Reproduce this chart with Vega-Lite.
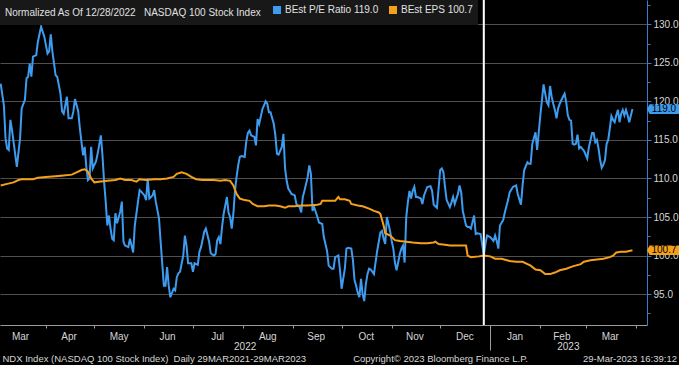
{
"$schema": "https://vega.github.io/schema/vega-lite/v6.json",
"width": 647, "height": 325,
"autosize": {"type": "none"},
"padding": {"left": 0, "top": 0, "right": 32, "bottom": 40},
"background": "#000000",
"config": {
  "font": "Liberation Sans",
  "view": {"stroke": null},
  "axis": {"labelFont": "Liberation Sans", "titleFont": "Liberation Sans", "labelFontSize": 10, "titleFontSize": 9.5, "titleFontWeight": "normal", "labelColor": "#d6d6d6", "titleColor": "#d6d6d6"},
  "legend": {"labelFont": "Liberation Sans", "titleFont": "Liberation Sans", "titleLimit": 400, "labelLimit": 200}
},
"datasets": {
"callouts": [
 {"d": "2023-04-08", "v": 119.0, "s": "pe", "label": "119.0"},
 {"d": "2023-04-08", "v": 100.7, "s": "eps", "label": "100.7"}
],
"series": [
{"d":"2022-03-04","v":122.3,"s":"pe"},{"d":"2022-03-06","v":119.5,"s":"pe"},{"d":"2022-03-07","v":115.2,"s":"pe"},{"d":"2022-03-08","v":113.9,"s":"pe"},{"d":"2022-03-09","v":113.7,"s":"pe"},{"d":"2022-03-10","v":117.6,"s":"pe"},{"d":"2022-03-11","v":116.3,"s":"pe"},{"d":"2022-03-14","v":111.5,"s":"pe"},{"d":"2022-03-16","v":115.2,"s":"pe"},{"d":"2022-03-17","v":119.1,"s":"pe"},{"d":"2022-03-19","v":120.2,"s":"pe"},{"d":"2022-03-20","v":123.0,"s":"pe"},{"d":"2022-03-21","v":123.2,"s":"pe"},{"d":"2022-03-22","v":124.9,"s":"pe"},{"d":"2022-03-23","v":123.2,"s":"pe"},{"d":"2022-03-24","v":125.8,"s":"pe"},{"d":"2022-03-26","v":126.0,"s":"pe"},{"d":"2022-03-27","v":127.7,"s":"pe"},{"d":"2022-03-29","v":129.7,"s":"pe"},{"d":"2022-03-31","v":128.4,"s":"pe"},
{"d":"2022-04-02","v":126.2,"s":"pe"},{"d":"2022-04-03","v":126.5,"s":"pe"},{"d":"2022-04-04","v":128.7,"s":"pe"},{"d":"2022-04-05","v":126.5,"s":"pe"},{"d":"2022-04-07","v":123.4,"s":"pe"},{"d":"2022-04-08","v":123.2,"s":"pe"},{"d":"2022-04-10","v":121.0,"s":"pe"},{"d":"2022-04-11","v":118.7,"s":"pe"},{"d":"2022-04-12","v":118.4,"s":"pe"},{"d":"2022-04-14","v":120.6,"s":"pe"},{"d":"2022-04-15","v":117.8,"s":"pe"},{"d":"2022-04-17","v":117.8,"s":"pe"},{"d":"2022-04-18","v":118.7,"s":"pe"},{"d":"2022-04-19","v":120.3,"s":"pe"},{"d":"2022-04-21","v":118.7,"s":"pe"},{"d":"2022-04-22","v":116.5,"s":"pe"},{"d":"2022-04-24","v":113.0,"s":"pe"},{"d":"2022-04-25","v":114.1,"s":"pe"},{"d":"2022-04-26","v":111.5,"s":"pe"},{"d":"2022-04-27","v":109.8,"s":"pe"},{"d":"2022-04-28","v":110.0,"s":"pe"},{"d":"2022-04-29","v":114.1,"s":"pe"},{"d":"2022-04-30","v":111.3,"s":"pe"},
{"d":"2022-05-02","v":112.2,"s":"pe"},{"d":"2022-05-03","v":113.2,"s":"pe"},{"d":"2022-05-05","v":115.6,"s":"pe"},{"d":"2022-05-06","v":113.0,"s":"pe"},{"d":"2022-05-07","v":109.6,"s":"pe"},{"d":"2022-05-08","v":107.0,"s":"pe"},{"d":"2022-05-09","v":103.9,"s":"pe"},{"d":"2022-05-10","v":105.2,"s":"pe"},{"d":"2022-05-11","v":103.5,"s":"pe"},{"d":"2022-05-12","v":102.2,"s":"pe"},{"d":"2022-05-13","v":102.0,"s":"pe"},{"d":"2022-05-14","v":105.5,"s":"pe"},{"d":"2022-05-15","v":104.2,"s":"pe"},{"d":"2022-05-17","v":105.7,"s":"pe"},{"d":"2022-05-18","v":107.0,"s":"pe"},{"d":"2022-05-19","v":101.8,"s":"pe"},{"d":"2022-05-20","v":101.3,"s":"pe"},{"d":"2022-05-22","v":101.1,"s":"pe"},{"d":"2022-05-23","v":102.2,"s":"pe"},{"d":"2022-05-25","v":100.4,"s":"pe"},{"d":"2022-05-26","v":103.9,"s":"pe"},{"d":"2022-05-28","v":107.0,"s":"pe"},{"d":"2022-05-29","v":108.5,"s":"pe"},{"d":"2022-05-30","v":108.3,"s":"pe"},
{"d":"2022-06-01","v":107.8,"s":"pe"},{"d":"2022-06-02","v":107.2,"s":"pe"},{"d":"2022-06-03","v":110.0,"s":"pe"},{"d":"2022-06-04","v":107.4,"s":"pe"},{"d":"2022-06-06","v":107.8,"s":"pe"},{"d":"2022-06-07","v":108.5,"s":"pe"},{"d":"2022-06-08","v":107.0,"s":"pe"},{"d":"2022-06-10","v":104.8,"s":"pe"},{"d":"2022-06-11","v":101.8,"s":"pe"},{"d":"2022-06-13","v":96.1,"s":"pe"},{"d":"2022-06-14","v":96.1,"s":"pe"},{"d":"2022-06-15","v":98.5,"s":"pe"},{"d":"2022-06-16","v":96.1,"s":"pe"},{"d":"2022-06-17","v":94.6,"s":"pe"},{"d":"2022-06-19","v":95.7,"s":"pe"},{"d":"2022-06-20","v":95.5,"s":"pe"},{"d":"2022-06-21","v":97.2,"s":"pe"},{"d":"2022-06-22","v":97.7,"s":"pe"},{"d":"2022-06-23","v":97.9,"s":"pe"},{"d":"2022-06-25","v":100.0,"s":"pe"},{"d":"2022-06-26","v":102.6,"s":"pe"},{"d":"2022-06-27","v":101.3,"s":"pe"},{"d":"2022-06-28","v":99.0,"s":"pe"},{"d":"2022-06-30","v":99.0,"s":"pe"},
{"d":"2022-07-01","v":97.9,"s":"pe"},{"d":"2022-07-02","v":99.0,"s":"pe"},{"d":"2022-07-04","v":98.8,"s":"pe"},{"d":"2022-07-05","v":100.5,"s":"pe"},{"d":"2022-07-06","v":101.1,"s":"pe"},{"d":"2022-07-08","v":103.1,"s":"pe"},{"d":"2022-07-09","v":103.5,"s":"pe"},{"d":"2022-07-11","v":101.8,"s":"pe"},{"d":"2022-07-12","v":100.3,"s":"pe"},{"d":"2022-07-14","v":100.0,"s":"pe"},{"d":"2022-07-15","v":100.2,"s":"pe"},{"d":"2022-07-16","v":102.0,"s":"pe"},{"d":"2022-07-17","v":102.4,"s":"pe"},{"d":"2022-07-18","v":101.5,"s":"pe"},{"d":"2022-07-19","v":103.7,"s":"pe"},{"d":"2022-07-20","v":105.4,"s":"pe"},{"d":"2022-07-21","v":106.5,"s":"pe"},{"d":"2022-07-22","v":107.6,"s":"pe"},{"d":"2022-07-23","v":105.6,"s":"pe"},{"d":"2022-07-24","v":105.0,"s":"pe"},{"d":"2022-07-25","v":103.5,"s":"pe"},{"d":"2022-07-26","v":105.4,"s":"pe"},{"d":"2022-07-27","v":108.4,"s":"pe"},{"d":"2022-07-28","v":110.2,"s":"pe"},{"d":"2022-07-29","v":111.7,"s":"pe"},{"d":"2022-07-30","v":112.8,"s":"pe"},{"d":"2022-07-31","v":112.9,"s":"pe"},
{"d":"2022-08-02","v":112.8,"s":"pe"},{"d":"2022-08-03","v":114.8,"s":"pe"},{"d":"2022-08-04","v":115.9,"s":"pe"},{"d":"2022-08-05","v":116.2,"s":"pe"},{"d":"2022-08-06","v":115.6,"s":"pe"},{"d":"2022-08-08","v":115.4,"s":"pe"},{"d":"2022-08-09","v":114.3,"s":"pe"},{"d":"2022-08-10","v":117.7,"s":"pe"},{"d":"2022-08-11","v":117.1,"s":"pe"},{"d":"2022-08-13","v":119.0,"s":"pe"},{"d":"2022-08-15","v":120.0,"s":"pe"},{"d":"2022-08-16","v":119.7,"s":"pe"},{"d":"2022-08-17","v":118.6,"s":"pe"},{"d":"2022-08-18","v":118.6,"s":"pe"},{"d":"2022-08-20","v":117.1,"s":"pe"},{"d":"2022-08-21","v":115.6,"s":"pe"},{"d":"2022-08-22","v":113.2,"s":"pe"},{"d":"2022-08-23","v":113.1,"s":"pe"},{"d":"2022-08-25","v":114.1,"s":"pe"},{"d":"2022-08-26","v":115.8,"s":"pe"},{"d":"2022-08-27","v":111.3,"s":"pe"},{"d":"2022-08-28","v":109.7,"s":"pe"},{"d":"2022-08-29","v":108.7,"s":"pe"},{"d":"2022-08-31","v":108.0,"s":"pe"},
{"d":"2022-09-02","v":107.8,"s":"pe"},{"d":"2022-09-03","v":106.7,"s":"pe"},{"d":"2022-09-05","v":106.3,"s":"pe"},{"d":"2022-09-06","v":105.6,"s":"pe"},{"d":"2022-09-07","v":107.6,"s":"pe"},{"d":"2022-09-08","v":108.4,"s":"pe"},{"d":"2022-09-10","v":110.2,"s":"pe"},{"d":"2022-09-11","v":111.7,"s":"pe"},{"d":"2022-09-12","v":110.6,"s":"pe"},{"d":"2022-09-13","v":105.8,"s":"pe"},{"d":"2022-09-14","v":106.3,"s":"pe"},{"d":"2022-09-16","v":105.0,"s":"pe"},{"d":"2022-09-17","v":104.3,"s":"pe"},{"d":"2022-09-19","v":104.1,"s":"pe"},{"d":"2022-09-20","v":102.4,"s":"pe"},{"d":"2022-09-22","v":100.6,"s":"pe"},{"d":"2022-09-23","v":98.7,"s":"pe"},{"d":"2022-09-25","v":98.3,"s":"pe"},{"d":"2022-09-26","v":98.3,"s":"pe"},{"d":"2022-09-27","v":99.8,"s":"pe"},{"d":"2022-09-29","v":100.0,"s":"pe"},{"d":"2022-09-30","v":98.1,"s":"pe"},
{"d":"2022-10-01","v":95.7,"s":"pe"},{"d":"2022-10-03","v":98.3,"s":"pe"},{"d":"2022-10-04","v":100.9,"s":"pe"},{"d":"2022-10-05","v":101.0,"s":"pe"},{"d":"2022-10-07","v":100.9,"s":"pe"},{"d":"2022-10-08","v":99.4,"s":"pe"},{"d":"2022-10-09","v":96.8,"s":"pe"},{"d":"2022-10-10","v":96.1,"s":"pe"},{"d":"2022-10-11","v":95.2,"s":"pe"},{"d":"2022-10-12","v":94.6,"s":"pe"},{"d":"2022-10-13","v":97.0,"s":"pe"},{"d":"2022-10-14","v":95.0,"s":"pe"},{"d":"2022-10-15","v":94.1,"s":"pe"},{"d":"2022-10-16","v":96.3,"s":"pe"},{"d":"2022-10-17","v":97.6,"s":"pe"},{"d":"2022-10-18","v":98.3,"s":"pe"},{"d":"2022-10-19","v":98.2,"s":"pe"},{"d":"2022-10-21","v":97.6,"s":"pe"},{"d":"2022-10-22","v":99.1,"s":"pe"},{"d":"2022-10-23","v":100.6,"s":"pe"},{"d":"2022-10-25","v":103.0,"s":"pe"},{"d":"2022-10-26","v":103.2,"s":"pe"},{"d":"2022-10-27","v":102.2,"s":"pe"},{"d":"2022-10-28","v":101.5,"s":"pe"},{"d":"2022-10-29","v":105.0,"s":"pe"},{"d":"2022-10-30","v":104.1,"s":"pe"},{"d":"2022-10-31","v":103.2,"s":"pe"},
{"d":"2022-11-01","v":101.9,"s":"pe"},{"d":"2022-11-02","v":100.9,"s":"pe"},{"d":"2022-11-03","v":99.1,"s":"pe"},{"d":"2022-11-04","v":98.1,"s":"pe"},{"d":"2022-11-05","v":99.1,"s":"pe"},{"d":"2022-11-06","v":100.2,"s":"pe"},{"d":"2022-11-07","v":100.9,"s":"pe"},{"d":"2022-11-08","v":101.3,"s":"pe"},{"d":"2022-11-09","v":99.1,"s":"pe"},{"d":"2022-11-10","v":105.0,"s":"pe"},{"d":"2022-11-11","v":106.9,"s":"pe"},{"d":"2022-11-12","v":108.4,"s":"pe"},{"d":"2022-11-13","v":107.4,"s":"pe"},{"d":"2022-11-14","v":108.4,"s":"pe"},{"d":"2022-11-15","v":108.9,"s":"pe"},{"d":"2022-11-16","v":107.6,"s":"pe"},{"d":"2022-11-17","v":107.6,"s":"pe"},{"d":"2022-11-19","v":107.4,"s":"pe"},{"d":"2022-11-20","v":106.7,"s":"pe"},{"d":"2022-11-21","v":107.8,"s":"pe"},{"d":"2022-11-23","v":108.9,"s":"pe"},{"d":"2022-11-25","v":109.0,"s":"pe"},{"d":"2022-11-26","v":108.4,"s":"pe"},{"d":"2022-11-27","v":106.6,"s":"pe"},{"d":"2022-11-29","v":106.2,"s":"pe"},
{"d":"2022-12-01","v":111.1,"s":"pe"},{"d":"2022-12-02","v":111.3,"s":"pe"},{"d":"2022-12-03","v":110.8,"s":"pe"},{"d":"2022-12-04","v":108.9,"s":"pe"},{"d":"2022-12-05","v":107.2,"s":"pe"},{"d":"2022-12-07","v":106.3,"s":"pe"},{"d":"2022-12-08","v":106.9,"s":"pe"},{"d":"2022-12-09","v":107.6,"s":"pe"},{"d":"2022-12-10","v":106.7,"s":"pe"},{"d":"2022-12-12","v":108.0,"s":"pe"},{"d":"2022-12-13","v":109.1,"s":"pe"},{"d":"2022-12-14","v":108.2,"s":"pe"},{"d":"2022-12-15","v":105.8,"s":"pe"},{"d":"2022-12-17","v":103.9,"s":"pe"},{"d":"2022-12-18","v":103.7,"s":"pe"},{"d":"2022-12-19","v":103.7,"s":"pe"},{"d":"2022-12-20","v":103.5,"s":"pe"},{"d":"2022-12-22","v":105.2,"s":"pe"},{"d":"2022-12-23","v":102.8,"s":"pe"},{"d":"2022-12-24","v":102.9,"s":"pe"},{"d":"2022-12-26","v":102.8,"s":"pe"},{"d":"2022-12-27","v":101.5,"s":"pe"},{"d":"2022-12-28","v":100.0,"s":"pe"},{"d":"2022-12-29","v":101.5,"s":"pe"},{"d":"2022-12-30","v":102.6,"s":"pe"},
{"d":"2023-01-01","v":102.4,"s":"pe"},{"d":"2023-01-03","v":101.9,"s":"pe"},{"d":"2023-01-04","v":102.6,"s":"pe"},{"d":"2023-01-05","v":101.9,"s":"pe"},{"d":"2023-01-06","v":100.9,"s":"pe"},{"d":"2023-01-07","v":103.9,"s":"pe"},{"d":"2023-01-09","v":104.6,"s":"pe"},{"d":"2023-01-10","v":105.6,"s":"pe"},{"d":"2023-01-12","v":107.2,"s":"pe"},{"d":"2023-01-13","v":108.2,"s":"pe"},{"d":"2023-01-15","v":108.9,"s":"pe"},{"d":"2023-01-16","v":109.0,"s":"pe"},{"d":"2023-01-17","v":109.1,"s":"pe"},{"d":"2023-01-18","v":108.0,"s":"pe"},{"d":"2023-01-20","v":106.6,"s":"pe"},{"d":"2023-01-21","v":109.1,"s":"pe"},{"d":"2023-01-22","v":111.1,"s":"pe"},{"d":"2023-01-24","v":112.1,"s":"pe"},{"d":"2023-01-25","v":111.9,"s":"pe"},{"d":"2023-01-26","v":111.9,"s":"pe"},{"d":"2023-01-27","v":114.5,"s":"pe"},{"d":"2023-01-29","v":116.0,"s":"pe"},{"d":"2023-01-30","v":113.7,"s":"pe"},{"d":"2023-01-31","v":116.0,"s":"pe"},
{"d":"2023-02-01","v":118.2,"s":"pe"},{"d":"2023-02-02","v":120.2,"s":"pe"},{"d":"2023-02-03","v":122.2,"s":"pe"},{"d":"2023-02-04","v":121.0,"s":"pe"},{"d":"2023-02-05","v":119.9,"s":"pe"},{"d":"2023-02-06","v":119.5,"s":"pe"},{"d":"2023-02-07","v":122.0,"s":"pe"},{"d":"2023-02-08","v":120.6,"s":"pe"},{"d":"2023-02-09","v":119.7,"s":"pe"},{"d":"2023-02-10","v":118.9,"s":"pe"},{"d":"2023-02-11","v":117.8,"s":"pe"},{"d":"2023-02-12","v":119.1,"s":"pe"},{"d":"2023-02-13","v":119.7,"s":"pe"},{"d":"2023-02-15","v":120.6,"s":"pe"},{"d":"2023-02-16","v":121.0,"s":"pe"},{"d":"2023-02-17","v":119.9,"s":"pe"},{"d":"2023-02-18","v":118.2,"s":"pe"},{"d":"2023-02-19","v":117.6,"s":"pe"},{"d":"2023-02-20","v":117.5,"s":"pe"},{"d":"2023-02-21","v":114.5,"s":"pe"},{"d":"2023-02-22","v":114.4,"s":"pe"},{"d":"2023-02-23","v":114.5,"s":"pe"},{"d":"2023-02-24","v":115.7,"s":"pe"},{"d":"2023-02-25","v":113.9,"s":"pe"},{"d":"2023-02-26","v":114.1,"s":"pe"},{"d":"2023-02-28","v":113.6,"s":"pe"},
{"d":"2023-03-01","v":113.1,"s":"pe"},{"d":"2023-03-02","v":112.6,"s":"pe"},{"d":"2023-03-03","v":114.0,"s":"pe"},{"d":"2023-03-05","v":115.9,"s":"pe"},{"d":"2023-03-06","v":115.9,"s":"pe"},{"d":"2023-03-07","v":114.7,"s":"pe"},{"d":"2023-03-08","v":115.0,"s":"pe"},{"d":"2023-03-09","v":113.9,"s":"pe"},{"d":"2023-03-10","v":112.4,"s":"pe"},{"d":"2023-03-11","v":111.4,"s":"pe"},{"d":"2023-03-12","v":111.8,"s":"pe"},{"d":"2023-03-13","v":112.4,"s":"pe"},{"d":"2023-03-14","v":114.5,"s":"pe"},{"d":"2023-03-15","v":115.0,"s":"pe"},{"d":"2023-03-16","v":116.5,"s":"pe"},{"d":"2023-03-17","v":118.1,"s":"pe"},{"d":"2023-03-18","v":117.6,"s":"pe"},{"d":"2023-03-19","v":117.3,"s":"pe"},{"d":"2023-03-20","v":118.2,"s":"pe"},{"d":"2023-03-21","v":118.9,"s":"pe"},{"d":"2023-03-22","v":117.3,"s":"pe"},{"d":"2023-03-23","v":118.4,"s":"pe"},{"d":"2023-03-24","v":118.9,"s":"pe"},{"d":"2023-03-25","v":118.2,"s":"pe"},{"d":"2023-03-26","v":118.9,"s":"pe"},{"d":"2023-03-27","v":118.2,"s":"pe"},{"d":"2023-03-28","v":117.3,"s":"pe"},{"d":"2023-03-30","v":119.0,"s":"pe"},
{"d":"2022-03-04","v":109.1,"s":"eps"},{"d":"2022-03-08","v":109.3,"s":"eps"},{"d":"2022-03-12","v":109.5,"s":"eps"},{"d":"2022-03-15","v":109.8,"s":"eps"},{"d":"2022-03-17","v":109.9,"s":"eps"},{"d":"2022-03-21","v":109.9,"s":"eps"},{"d":"2022-03-24","v":109.9,"s":"eps"},{"d":"2022-03-27","v":110.1,"s":"eps"},{"d":"2022-04-01","v":110.2,"s":"eps"},{"d":"2022-04-07","v":110.3,"s":"eps"},{"d":"2022-04-12","v":110.4,"s":"eps"},{"d":"2022-04-17","v":110.5,"s":"eps"},{"d":"2022-04-20","v":110.8,"s":"eps"},{"d":"2022-04-23","v":111.1,"s":"eps"},{"d":"2022-04-25","v":111.2,"s":"eps"},{"d":"2022-04-27","v":110.9,"s":"eps"},{"d":"2022-04-29","v":110.0,"s":"eps"},{"d":"2022-05-01","v":109.5,"s":"eps"},{"d":"2022-05-05","v":109.6,"s":"eps"},{"d":"2022-05-09","v":109.7,"s":"eps"},{"d":"2022-05-14","v":109.8,"s":"eps"},{"d":"2022-05-17","v":110.0,"s":"eps"},{"d":"2022-05-20","v":109.8,"s":"eps"},{"d":"2022-05-24","v":109.8,"s":"eps"},{"d":"2022-05-27","v":109.6,"s":"eps"},{"d":"2022-05-29","v":109.9,"s":"eps"},{"d":"2022-06-02","v":109.8,"s":"eps"},{"d":"2022-06-07","v":109.9,"s":"eps"},{"d":"2022-06-11","v":109.9,"s":"eps"},{"d":"2022-06-15","v":110.0,"s":"eps"},{"d":"2022-06-19","v":110.2,"s":"eps"},{"d":"2022-06-21","v":110.6,"s":"eps"},{"d":"2022-06-24","v":110.8,"s":"eps"},{"d":"2022-06-27","v":110.6,"s":"eps"},{"d":"2022-06-30","v":110.2,"s":"eps"},{"d":"2022-07-03","v":109.9,"s":"eps"},{"d":"2022-07-07","v":109.8,"s":"eps"},{"d":"2022-07-14","v":109.8,"s":"eps"},{"d":"2022-07-18","v":109.7,"s":"eps"},{"d":"2022-07-21","v":109.8,"s":"eps"},{"d":"2022-07-24","v":109.7,"s":"eps"},{"d":"2022-07-26","v":109.1,"s":"eps"},{"d":"2022-07-28","v":108.0,"s":"eps"},{"d":"2022-07-30","v":107.4,"s":"eps"},{"d":"2022-08-02","v":107.2,"s":"eps"},{"d":"2022-08-05","v":107.1,"s":"eps"},{"d":"2022-08-07","v":106.7,"s":"eps"},{"d":"2022-08-10","v":106.4,"s":"eps"},{"d":"2022-08-14","v":106.4,"s":"eps"},{"d":"2022-08-17","v":106.5,"s":"eps"},{"d":"2022-08-21","v":106.5,"s":"eps"},{"d":"2022-08-24","v":106.4,"s":"eps"},{"d":"2022-08-27","v":106.2,"s":"eps"},{"d":"2022-08-29","v":106.4,"s":"eps"},{"d":"2022-09-02","v":106.4,"s":"eps"},{"d":"2022-09-06","v":106.5,"s":"eps"},{"d":"2022-09-10","v":106.5,"s":"eps"},{"d":"2022-09-16","v":106.6,"s":"eps"},{"d":"2022-09-18","v":106.7,"s":"eps"},{"d":"2022-09-19","v":107.1,"s":"eps"},{"d":"2022-09-23","v":107.1,"s":"eps"},{"d":"2022-09-27","v":107.1,"s":"eps"},{"d":"2022-09-29","v":107.6,"s":"eps"},{"d":"2022-09-30","v":107.3,"s":"eps"},{"d":"2022-10-03","v":107.3,"s":"eps"},{"d":"2022-10-06","v":107.1,"s":"eps"},{"d":"2022-10-07","v":106.7,"s":"eps"},{"d":"2022-10-11","v":106.5,"s":"eps"},{"d":"2022-10-14","v":106.4,"s":"eps"},{"d":"2022-10-18","v":106.1,"s":"eps"},{"d":"2022-10-21","v":105.8,"s":"eps"},{"d":"2022-10-24","v":105.6,"s":"eps"},{"d":"2022-10-25","v":105.4,"s":"eps"},{"d":"2022-10-27","v":103.9,"s":"eps"},{"d":"2022-10-28","v":102.9,"s":"eps"},{"d":"2022-10-31","v":102.6,"s":"eps"},{"d":"2022-11-03","v":102.0,"s":"eps"},{"d":"2022-11-06","v":101.9,"s":"eps"},{"d":"2022-11-10","v":101.8,"s":"eps"},{"d":"2022-11-14","v":101.7,"s":"eps"},{"d":"2022-11-19","v":101.6,"s":"eps"},{"d":"2022-11-23","v":101.6,"s":"eps"},{"d":"2022-11-27","v":101.7,"s":"eps"},{"d":"2022-11-28","v":101.8,"s":"eps"},{"d":"2022-11-30","v":101.5,"s":"eps"},{"d":"2022-12-04","v":101.4,"s":"eps"},{"d":"2022-12-07","v":101.3,"s":"eps"},{"d":"2022-12-11","v":101.3,"s":"eps"},{"d":"2022-12-15","v":101.3,"s":"eps"},{"d":"2022-12-17","v":101.3,"s":"eps"},{"d":"2022-12-18","v":100.0,"s":"eps"},{"d":"2022-12-20","v":99.8,"s":"eps"},{"d":"2022-12-25","v":99.9,"s":"eps"},{"d":"2022-12-28","v":100.0,"s":"eps"},{"d":"2023-01-01","v":99.9,"s":"eps"},{"d":"2023-01-04","v":99.6,"s":"eps"},{"d":"2023-01-08","v":99.6,"s":"eps"},{"d":"2023-01-13","v":99.3,"s":"eps"},{"d":"2023-01-17","v":99.2,"s":"eps"},{"d":"2023-01-21","v":99.2,"s":"eps"},{"d":"2023-01-26","v":98.7,"s":"eps"},{"d":"2023-01-29","v":98.2,"s":"eps"},{"d":"2023-02-01","v":98.1,"s":"eps"},{"d":"2023-02-04","v":97.6,"s":"eps"},{"d":"2023-02-07","v":97.6,"s":"eps"},{"d":"2023-02-10","v":97.8,"s":"eps"},{"d":"2023-02-13","v":98.1,"s":"eps"},{"d":"2023-02-17","v":98.3,"s":"eps"},{"d":"2023-02-21","v":98.6,"s":"eps"},{"d":"2023-02-26","v":98.9,"s":"eps"},{"d":"2023-02-28","v":99.2,"s":"eps"},{"d":"2023-03-04","v":99.4,"s":"eps"},{"d":"2023-03-08","v":99.5,"s":"eps"},{"d":"2023-03-12","v":99.6,"s":"eps"},{"d":"2023-03-16","v":99.8,"s":"eps"},{"d":"2023-03-18","v":100.0,"s":"eps"},{"d":"2023-03-20","v":100.4,"s":"eps"},{"d":"2023-03-23","v":100.5,"s":"eps"},{"d":"2023-03-26","v":100.5,"s":"eps"},{"d":"2023-03-30","v":100.7,"s":"eps"}
]
},
"layer": [
{
 "data": {"name": "series"},
 "mark": {"type": "line", "strokeWidth": 2},
 "encoding": {
  "x": {"field": "d", "type": "temporal",
   "scale": {"type": "utc", "domain": [{"year": 2022, "month": 3, "date": 3, "hours": 14, "utc": true}, {"year": 2023, "month": 4, "date": 8, "utc": true}]},
   "axis": {"orient": "bottom", "labels": false, "grid": false, "domainColor": "#9a9a9a", "tickColor": "#9a9a9a",
     "tickSize": {"condition": {"test": "utcmonth(datum.value) === 0", "value": 25}, "value": 3},
     "values": [{"year": 2022, "month": 4, "date": 1, "utc": true}, {"year": 2022, "month": 5, "date": 1, "utc": true}, {"year": 2022, "month": 6, "date": 1, "utc": true}, {"year": 2022, "month": 7, "date": 1, "utc": true}, {"year": 2022, "month": 8, "date": 1, "utc": true}, {"year": 2022, "month": 9, "date": 1, "utc": true}, {"year": 2022, "month": 10, "date": 1, "utc": true}, {"year": 2022, "month": 11, "date": 1, "utc": true}, {"year": 2022, "month": 12, "date": 1, "utc": true}, {"year": 2023, "month": 1, "date": 1, "utc": true}, {"year": 2023, "month": 2, "date": 1, "utc": true}, {"year": 2023, "month": 3, "date": 1, "utc": true}, {"year": 2023, "month": 4, "date": 1, "utc": true}],
     "title": "Copyright\u00a9 2023 Bloomberg Finance L.P.", "titleX": 440, "titleY": 36, "titleAlign": "center", "titleBaseline": "alphabetic"}},
  "y": {"field": "v", "type": "quantitative",
   "scale": {"domain": [91.0, 133.15], "nice": false, "zero": false},
   "axis": {"orient": "right", "values": [95, 100, 105, 110, 115, 120, 125, 130], "format": ".1f", "title": null, "grid": true, "gridColor": "#505050", "gridWidth": 1, "domainColor": "#3d7cc9", "tickColor": "#3d7cc9", "tickSize": 4, "labelPadding": 2}},
  "color": {"field": "s", "type": "nominal", "scale": {"domain": ["pe", "eps"], "range": ["#3d9cf0", "#f5a01a"]},
   "legend": {"orient": "none", "legendX": 0, "legendY": 0, "direction": "horizontal",
     "title": "Normalized As Of 12/28/2022 \u00a0\u00a0NASDAQ 100 Stock Index", "titleOrient": "left", "titleFontWeight": "normal", "titleFontSize": 10, "titleColor": "#e0e0e0", "titlePadding": 10, "titleLimit": 400,
     "labelFontSize": 10, "labelColor": "#e0e0e0", "labelLimit": 200, "labelExpr": "datum.value === 'pe' ? 'BEst P/E Ratio 119.0' : 'BEst EPS 100.7'",
     "symbolType": "square", "symbolSize": 16, "symbolStrokeWidth": 4, "symbolOpacity": 1, "labelOffset": 3, "columnPadding": 4, "padding": 5, "fillColor": "#181818"}}
 }
},
{
 "data": {"values": [{"d": "2022-12-28"}]},
 "mark": {"type": "rule", "color": "#ffffff", "strokeWidth": 2},
 "encoding": {
  "x": {"field": "d", "type": "temporal",
   "scale": {"type": "utc", "domain": [{"year": 2022, "month": 3, "date": 3, "hours": 14, "utc": true}, {"year": 2023, "month": 4, "date": 8, "utc": true}]},
   "axis": {"orient": "bottom", "labelExpr": "utcFormat(datum.value, '%b')", "ticks": false, "domain": false, "grid": false, "labelPadding": 6, "labelFlush": false, "labelOverlap": false,
     "values": [{"year": 2022, "month": 3, "date": 16, "utc": true}, {"year": 2022, "month": 4, "date": 15, "utc": true}, {"year": 2022, "month": 5, "date": 16, "utc": true}, {"year": 2022, "month": 6, "date": 15, "utc": true}, {"year": 2022, "month": 7, "date": 16, "utc": true}, {"year": 2022, "month": 8, "date": 16, "utc": true}, {"year": 2022, "month": 9, "date": 15, "utc": true}, {"year": 2022, "month": 10, "date": 16, "utc": true}, {"year": 2022, "month": 11, "date": 15, "utc": true}, {"year": 2022, "month": 12, "date": 16, "utc": true}, {"year": 2023, "month": 1, "date": 16, "utc": true}, {"year": 2023, "month": 2, "date": 14, "utc": true}, {"year": 2023, "month": 3, "date": 16, "utc": true}],
     "title": "NDX Index (NASDAQ 100 Stock Index)\u00a0 Daily 29MAR2021-29MAR2023", "titleX": 2, "titleY": 36, "titleAlign": "left", "titleBaseline": "alphabetic"}}
 }
},
{
 "data": {"name": "callouts"},
 "mark": {"type": "point", "shape": "M-1,0L-0.84,-0.3L1,-0.3L1,0.3L-0.84,0.3Z", "size": 1024, "filled": true, "opacity": 1, "xOffset": 16, "strokeWidth": 0},
 "encoding": {
  "x": {"field": "d", "type": "temporal",
   "scale": {"type": "utc", "domain": [{"year": 2022, "month": 3, "date": 3, "hours": 14, "utc": true}, {"year": 2023, "month": 4, "date": 8, "utc": true}]},
   "axis": {"orient": "bottom", "labelExpr": "utcFormat(datum.value, '%Y')", "ticks": false, "domain": false, "grid": false, "labelPadding": 16.5, "labelFlush": false, "labelOverlap": false, "title": null,
     "values": [{"year": 2022, "month": 8, "date": 2, "utc": true}, {"year": 2023, "month": 2, "date": 18, "utc": true}]}},
  "y": {"field": "v", "type": "quantitative",
   "scale": {"domain": [91.0, 133.15], "nice": false, "zero": false},
   "axis": {"orient": "right", "values": [92.5, 97.5, 102.5, 107.5, 112.5, 117.5, 122.5, 127.5, 132.5], "labels": false, "domain": false, "grid": false, "tickColor": "#3d7cc9", "tickSize": 3,
     "title": "29-Mar-2023 16:39:12", "titleAngle": 0, "titleX": 29.5, "titleY": 361, "titleAlign": "right", "titleBaseline": "alphabetic"}},
  "color": {"field": "s", "type": "nominal", "scale": {"domain": ["pe", "eps"], "range": ["#3d9cf0", "#f5a01a"]},
   "legend": {"orient": "none", "legendX": 0, "legendY": 0, "direction": "horizontal",
     "title": "Normalized As Of 12/28/2022 \u00a0\u00a0NASDAQ 100 Stock Index", "titleOrient": "left", "titleFontWeight": "normal", "titleFontSize": 10, "titleColor": "#e0e0e0", "titlePadding": 10, "titleLimit": 400,
     "labelFontSize": 10, "labelColor": "#e0e0e0", "labelLimit": 200, "labelExpr": "datum.value === 'pe' ? 'BEst P/E Ratio 119.0' : 'BEst EPS 100.7'",
     "symbolType": "square", "symbolSize": 16, "symbolStrokeWidth": 4, "symbolOpacity": 1, "labelOffset": 3, "columnPadding": 4, "padding": 5, "fillColor": "#181818"}}
 }
},
{
 "data": {"name": "callouts"},
 "mark": {"type": "text", "xOffset": 17, "align": "center", "baseline": "middle", "fontSize": 10, "font": "Liberation Sans", "color": "#000000"},
 "encoding": {
  "x": {"field": "d", "type": "temporal",
   "scale": {"type": "utc", "domain": [{"year": 2022, "month": 3, "date": 3, "hours": 14, "utc": true}, {"year": 2023, "month": 4, "date": 8, "utc": true}]}, "axis": null},
  "y": {"field": "v", "type": "quantitative", "scale": {"domain": [91.0, 133.15], "nice": false, "zero": false}, "axis": null},
  "text": {"field": "label"}
 }
}
],
"resolve": {"axis": {"x": "independent", "y": "independent"}}
}
